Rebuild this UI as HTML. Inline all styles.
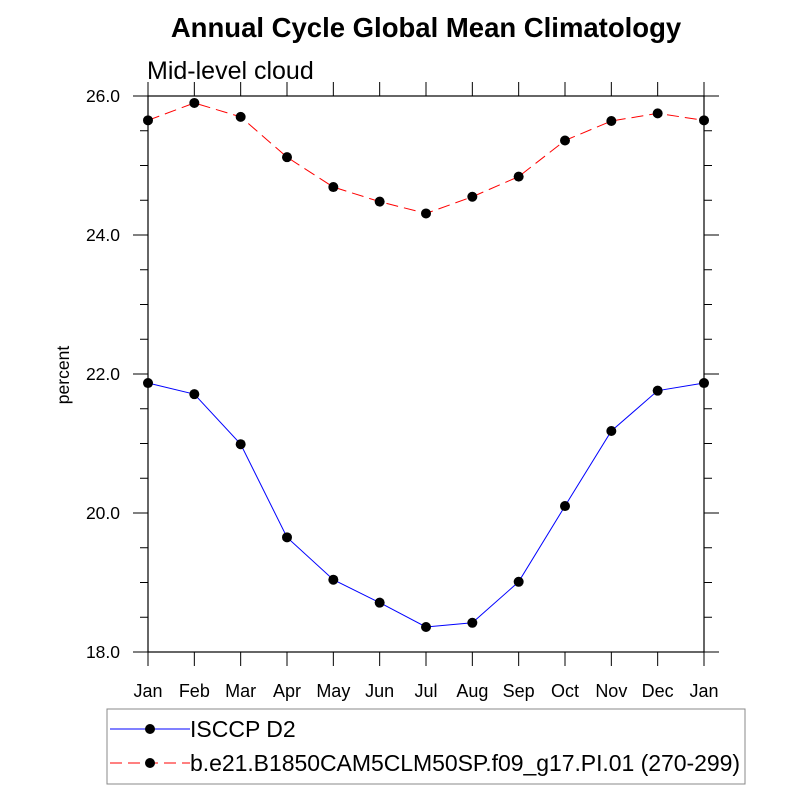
<!DOCTYPE html>
<html><head><meta charset="utf-8"><style>
body{margin:0;background:#fff;}
svg{display:block;font-family:"Liberation Sans",sans-serif;}
</style></head><body>
<svg id="chart" width="800" height="800" viewBox="0 0 800 800">
<text x="426" y="37" text-anchor="middle" font-size="27.5" font-weight="bold">Annual Cycle Global Mean Climatology</text>
<text x="147" y="79" font-size="25">Mid-level cloud</text>
<text transform="translate(69,375) rotate(-90)" text-anchor="middle" font-size="17.5">percent</text>
<g id="axes"></g>
<g id="series"></g>
<rect x="107" y="709" width="638" height="75" fill="none" stroke="#888" stroke-width="1"/>
<g>
<line x1="110" y1="729" x2="190" y2="729" stroke="#00f" stroke-width="1"/>
<circle cx="150" cy="729" r="5" fill="#000"/>
<text x="190" y="737" font-size="23">ISCCP D2</text>
</g>
<g>
<line x1="110" y1="763" x2="190" y2="763" stroke="#f00" stroke-width="1" stroke-dasharray="12,6"/>
<circle cx="150" cy="763" r="5" fill="#000"/>
<text x="190" y="771" font-size="23" textLength="550">b.e21.B1850CAM5CLM50SP.f09_g17.PI.01 (270-299)</text>
</g>
</svg>
<script>
const months = ["Jan","Feb","Mar","Apr","May","Jun","Jul","Aug","Sep","Oct","Nov","Dec","Jan"];
const isccpValues = [21.87,21.71,20.99,19.65,19.04,18.71,18.36,18.42,19.01,20.10,21.18,21.76,21.87];
const modelValues = [25.65,25.90,25.70,25.12,24.69,24.48,24.31,24.55,24.84,25.36,25.64,25.75,25.65];
const yTicks = [18,20,22,24,26];
const yTickLabels = ["18.0","20.0","22.0","24.0","26.0"];
const yMin = 18, yMax = 26;
const L=148,R=704,T=96,B=652;
const NS="http://www.w3.org/2000/svg";
const xs = i => L + i*(R-L)/(months.length-1);
const ys = v => B - (v-yMin)/(yMax-yMin)*(B-T);
function mk(tag, attrs, parent){const e=document.createElementNS(NS,tag);for(const k in attrs)e.setAttribute(k,attrs[k]);parent.appendChild(e);return e;}
const ax=document.getElementById('axes');
const frame=mk('rect',{x:L,y:T,width:R-L,height:B-T,fill:'none',stroke:'#000','stroke-width':1.2},ax);


months.forEach((m,i)=>{
  const x=xs(i);
  mk('line',{x1:x,y1:B,x2:x,y2:B+14,stroke:'#000'},ax);
  mk('line',{x1:x,y1:T,x2:x,y2:T-14,stroke:'#000'},ax);
  const t=mk('text',{x:x,y:B+45,'text-anchor':'middle','font-size':18},ax);
  t.textContent=m;
  
  
});
for(let v=yMin;v<=yMax+1e-9;v+=0.5){
  const y=ys(v); const major=Math.abs(v-Math.round(v/2)*2)<1e-9;
  const len=major?15:8;
  mk('line',{x1:L,y1:y,x2:L-len,y2:y,stroke:'#000'},ax);
  mk('line',{x1:R,y1:y,x2:R+len,y2:y,stroke:'#000'},ax);
}
yTicks.forEach((v,i)=>{
  const t=mk('text',{x:L-28,y:ys(v)+6,'text-anchor':'end','font-size':17.5},ax);
  t.textContent=yTickLabels[i];
  
  
});
const sg=document.getElementById('series');
function drawSeries(vals,color,dash,name){
  const g=mk('g',{},sg);
  
  
  const p=mk('polyline',{points:vals.map((v,i)=>xs(i)+','+ys(v)).join(' '),fill:'none',stroke:color,'stroke-width':1,'stroke-dasharray':dash},g);
  
  
  vals.forEach((v,i)=>{
    const c=mk('circle',{cx:xs(i),cy:ys(v),r:5,fill:'#000'},g);
    
    
  });
}
drawSeries(modelValues,'#f00','12,6','model-series');
drawSeries(isccpValues,'#00f','none','isccp-series');
</script>
</body></html>
